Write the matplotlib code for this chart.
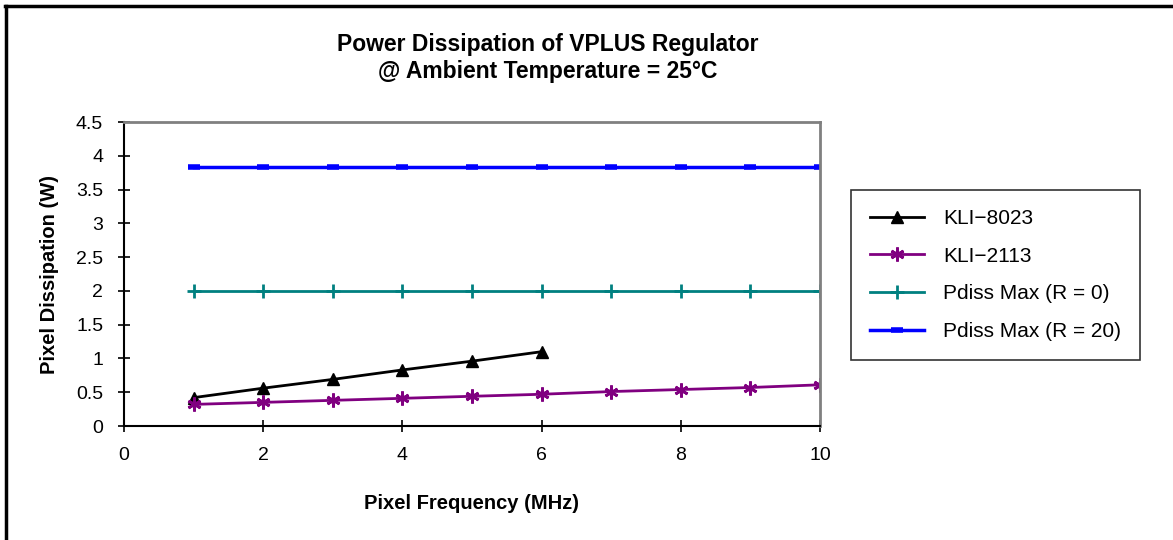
import matplotlib
matplotlib.use('Agg')
import matplotlib.pyplot as plt
from matplotlib.lines import Line2D

plt.rcParams['font.family'] = ['Liberation Sans', 'DejaVu Sans']

# data
freq_8023 = [1, 2, 3, 4, 5, 6]
kli_8023 = [0.42, 0.56, 0.69, 0.83, 0.96, 1.10]
freq = [1, 2, 3, 4, 5, 6, 7, 8, 9, 10]
kli_2113 = [0.32, 0.35, 0.38, 0.41, 0.44, 0.47, 0.51, 0.54, 0.57, 0.61]
pdiss_r0 = [2.0] * 10
pdiss_r20 = [3.83] * 10
labels = ['KLI\u22128023', 'KLI\u22122113', 'Pdiss Max (R = 0)', 'Pdiss Max (R = 20)']

fig = plt.figure(figsize=(11.73, 5.4), dpi=100)
ax = fig.add_axes([0.1057, 0.2111, 0.5933, 0.5629])

ax.plot(freq_8023, kli_8023, color='black', lw=2, marker='^', ms=9, label=labels[0])
ax.plot(freq, kli_2113, color='#800080', lw=2, marker=(6, 2, 0), ms=10, mew=2, label=labels[1])
ax.plot(freq, pdiss_r0, color='#008080', lw=2, marker='+', ms=10, mew=2, label=labels[2])
ax.plot(freq, pdiss_r20, color='#0000ff', lw=2.5, marker='_', ms=8, mew=4, label=labels[3])

ax.set_xlim(0, 10)
ax.set_ylim(0, 4.5)
ax.set_xticks([0, 2, 4, 6, 8, 10])
ax.set_yticks([0, 0.5, 1, 1.5, 2, 2.5, 3, 3.5, 4, 4.5])
ax.set_yticklabels(['0', '0.5', '1', '1.5', '2', '2.5', '3', '3.5', '4', '4.5'])
ax.tick_params(direction='inout', length=8, width=1.2, labelsize=14)
ax.tick_params(axis='x', pad=11)
ax.tick_params(axis='y', pad=11)
ax.spines['left'].set_linewidth(1.5)
ax.spines['bottom'].set_linewidth(1.5)
ax.spines['top'].set_color('#808080')
ax.spines['right'].set_color('#808080')
ax.spines['top'].set_linewidth(2)
ax.spines['right'].set_linewidth(2)

ax.set_xlabel('Pixel Frequency (MHz)', fontsize=14.5, fontweight='bold', labelpad=22)
ax.set_ylabel('Pixel Dissipation (W)', fontsize=14.5, fontweight='bold', labelpad=12)

fig.text(0.467, 0.9056, 'Power Dissipation of VPLUS Regulator', ha='center', va='baseline',
         fontsize=16.5, fontweight='bold')
fig.text(0.467, 0.8556, '@ Ambient Temperature = 25\u00b0C', ha='center', va='baseline',
         fontsize=16.5, fontweight='bold')

leg = fig.legend(loc='center', bbox_to_anchor=(0.7255, 0.3296, 0.2465, 0.3224),
                 fontsize=15, frameon=True, fancybox=False, handlelength=2.6,
                 labelspacing=0.9, borderpad=0.9, handletextpad=0.9, borderaxespad=0)
leg.get_frame().set_edgecolor('black')
leg.get_frame().set_linewidth(1.2)

# outer frame (only left and top visible)
fig.add_artist(Line2D([0.005, 0.005], [0, 0.989], color='black', lw=2.5, transform=fig.transFigure))
fig.add_artist(Line2D([0.004, 1.0], [0.989, 0.989], color='black', lw=2.5, transform=fig.transFigure))

fig.savefig('out.png', dpi=100)
